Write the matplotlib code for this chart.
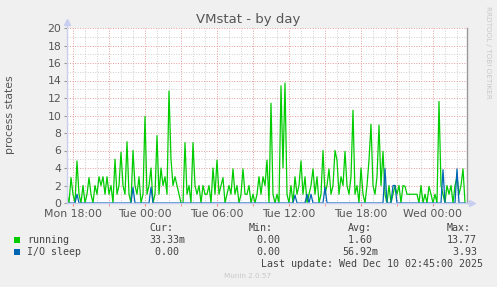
import pandas as pd
import matplotlib
matplotlib.use('Agg')
import matplotlib.pyplot as plt

# 10 minute samples, Mon 17:30 .. Wed 02:40
running = [1, 0, 2.9, 1, 0, 4.8, 1, 0, 2, 0,
           1, 2.9, 1, 0, 2, 1, 3, 2, 3, 1,
           3, 1, 2, 0, 5, 1, 2, 5.8, 2, 1,
           7, 1, 0, 6, 2, 1, 3, 0, 1, 9.9,
           1, 2, 4, 0, 1, 7.7, 1, 4, 2, 3,
           1, 12.8, 5, 2, 3, 2, 1, 0, 0, 6.9,
           1, 2, 0, 6.9, 2, 1, 2, 0, 2, 1,
           1, 2, 0, 4, 1, 4.9, 1, 2, 2.9, 0,
           1, 2, 1, 3.9, 1, 2, 0, 1, 3.9, 1,
           1, 2, 0, 1, 0, 1, 3, 1, 3, 2,
           4.9, 0, 11.4, 1, 0, 1, 0, 13.4, 4, 13.7,
           1, 0, 2, 0, 3, 1, 2, 4.8, 1, 3,
           0, 1, 2, 3.9, 1, 3, 0, 1, 6, 1,
           2, 3.9, 1, 2, 6, 4.9, 1, 3, 2, 5.9,
           2, 1, 3, 10.6, 1, 2, 0, 4, 1, 0,
           2, 4.9, 9, 2, 1, 3, 8.9, 2, 5.9, 1,
           0, 2, 0, 1, 2, 1, 2, 0, 2, 1.9,
           1, 1, 1, 1, 1, 1, 0, 2, 0, 1,
           0, 1.9, 1, 0, 1, 0, 11.6, 2, 1, 0,
           2, 1, 2, 0, 2, 3, 1, 2, 3.9, 0.03]
io_sleep = [0, 0, 0, 0, 0, 1, 0, 0, 0, 0,
            0, 0, 0, 0, 0, 0, 0, 0, 0, 0,
            0, 0, 0, 0, 0, 0, 0, 0, 0, 0,
            0, 0, 0, 1.8, 0, 0, 0, 0, 0, 0,
            0, 0, 1.8, 0, 0, 0, 0, 0, 0, 0,
            0, 0, 0, 0, 0, 0, 0, 0, 0, 0,
            0, 0, 0, 0, 0, 0, 0, 0, 0, 0,
            0, 0, 0, 0, 0, 0, 0, 0, 0, 0,
            0, 0, 0, 0, 0, 0, 0, 0, 0, 0,
            0, 0, 0, 0, 0, 0, 0, 0, 0, 0,
            0, 0, 0, 0, 0, 0, 0, 0, 0, 0,
            0, 0, 0, 0, 0.9, 0, 0, 0, 0, 0,
            1, 0, 1, 0, 0, 0, 0, 0, 0, 1.8,
            0, 0, 0, 0, 0, 0, 0, 0, 0, 0,
            0, 0, 0, 0, 0, 0, 0, 0, 0, 0,
            0, 0, 0, 0, 0, 0, 0, 0, 0, 3.93,
            0, 0, 0, 2, 2, 0, 0, 0, 0, 0,
            0, 0, 0, 0, 0, 0, 0, 0, 0, 0,
            0, 0, 0, 0, 0, 0, 0, 0, 3.8, 0,
            0, 0, 0, 0, 0, 3.9, 0, 0, 0, 0]
times = pd.date_range('2025-12-08 17:30', periods=len(running), freq='10min')

xlabels = ['Mon 18:00', 'Tue 00:00', 'Tue 06:00', 'Tue 12:00', 'Tue 18:00', 'Wed 00:00']
yticks = list(range(0, 21, 2))

names = ['running', 'I/O sleep']
colors = ['#00cc00', '#0066b3']
cur = ['33.33m', ' 0.00']
vmin = ['0.00', '0.00']
vavg = [' 1.60', '56.92m']
vmax = ['13.77', ' 3.93']

W, H = 497, 287
def px(x, y):
    return x / W, 1 - y / H

fig = plt.figure(figsize=(W / 100, H / 100), dpi=100, facecolor='#f0f0f0')
ax = fig.add_axes([67 / W, 1 - 203 / H, 400 / W, 175 / H])
ax.set_facecolor('white')

t0 = pd.Timestamp('2025-12-08 17:30')
t1 = pd.Timestamp('2025-12-10 02:50')
ax.set_xlim(t0, t1)
ax.set_ylim(0, 20)

dot = (0, (1, 1.6))
for h in pd.date_range('2025-12-08 18:00', t1, freq='1h'):
    if h.hour % 3 == 0:
        ax.axvline(h, color='#e69a9a', lw=0.7, ls=dot, zorder=1)
    else:
        ax.axvline(h, color='#cfcfcf', lw=0.7, ls=dot, zorder=0)
for v in range(1, 21):
    if v % 2 == 0:
        ax.axhline(v, color='#e69a9a', lw=0.7, ls=dot, zorder=1)
    else:
        ax.axhline(v, color='#cfcfcf', lw=0.7, ls=dot, zorder=0)

ax.plot(times, running, color=colors[0], lw=0.9, zorder=3)
ax.plot(times, io_sleep, color=colors[1], lw=0.9, zorder=4)

ax.set_xticks(pd.date_range('2025-12-08 18:00', '2025-12-10 00:00', freq='6h'))
ax.set_xticklabels(xlabels)
ax.set_xticks(pd.date_range('2025-12-08 18:00', t1, freq='3h'), minor=True)
ax.set_yticks(yticks)
ax.tick_params(axis='both', labelsize=7.8, labelcolor='#555555', pad=2)
ax.tick_params(axis='x', which='both', length=2, color='#ee8888', direction='out')
ax.tick_params(axis='y', length=2, color='#999999')

ax.spines['top'].set_visible(False)
ax.spines['right'].set_color('#999999')
ax.spines['right'].set_linewidth(1)
ax.spines['left'].set_visible(False)
ax.spines['bottom'].set_visible(False)

# rrdtool style axes with arrows
ax.plot([0, 0], [0, 1.035], transform=ax.transAxes, color='#c8cef0', lw=1, clip_on=False, zorder=5)
ax.plot([0, 1.01], [0, 0], transform=ax.transAxes, color='#c8cef0', lw=1, clip_on=False, zorder=5)
ax.plot([0], [1.035], transform=ax.transAxes, marker='^', ms=4, color='#c8cef0', clip_on=False, zorder=5)
ax.plot([1.012], [0], transform=ax.transAxes, marker='>', ms=4, color='#c8cef0', clip_on=False, zorder=5)

fig.text(*px(248, 20), 'VMstat - by day', ha='center', va='center', fontsize=9.5, color='#555555')
fig.text(*px(10, 115), 'process states', ha='center', va='center', rotation=90, fontsize=7.8, color='#555555')
fig.text(*px(488, 52), 'RRDTOOL / TOBI OETIKER', ha='center', va='center', rotation=270,
         fontsize=5.2, color='#c8c8c8')

mono = 'DejaVu Sans Mono'
fs = 7.2
tc = '#444444'
for x, s in [(149, 'Cur:'), (249, 'Min:'), (348, 'Avg:'), (447, 'Max:')]:
    fig.text(*px(x, 228), s, ha='left', va='center', family=mono, fontsize=fs, color=tc)
for i in range(2):
    y = 240 + 12 * i
    fig.patches.append(plt.Rectangle(px(14, y + 3), 6 / W, 6 / H, transform=fig.transFigure,
                                     facecolor=colors[i], edgecolor='none'))
    fig.text(*px(27, y), names[i], ha='left', va='center', family=mono, fontsize=fs, color=tc)
    fig.text(*px(149, y), cur[i], ha='left', va='center', family=mono, fontsize=fs, color=tc)
    fig.text(*px(256, y), vmin[i], ha='left', va='center', family=mono, fontsize=fs, color=tc)
    fig.text(*px(342, y), vavg[i], ha='left', va='center', family=mono, fontsize=fs, color=tc)
    fig.text(*px(447, y), vmax[i], ha='left', va='center', family=mono, fontsize=fs, color=tc)
fig.text(*px(483, 264), 'Last update: Wed Dec 10 02:45:00 2025', ha='right', va='center',
         family=mono, fontsize=fs, color=tc)
fig.text(*px(248, 276), 'Munin 2.0.57', ha='center', va='center', fontsize=5.2, color='#c8c8c8')

fig.savefig('out.png', dpi=100, facecolor=fig.get_facecolor())
